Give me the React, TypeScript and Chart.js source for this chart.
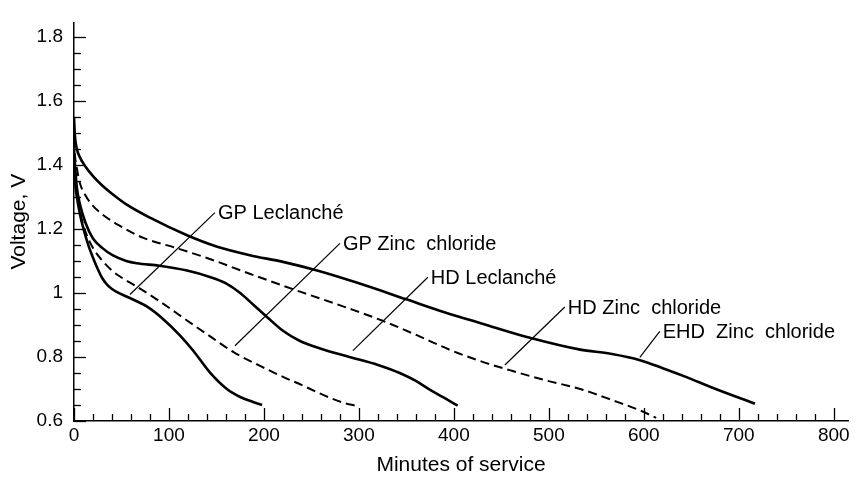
import React, { useEffect, useRef } from 'react';
import { Chart, registerables } from 'chart.js';

Chart.register(...registerables);

// ---- Data (minutes of service, voltage) ----
const gpLeclancheT = [0, 1, 3, 6, 10, 15, 20, 25, 30, 36, 45, 56, 66, 77, 94, 112, 126, 143, 161, 175, 188, 198];
const gpLeclancheV = [1.40, 1.35, 1.30, 1.25, 1.20, 1.15, 1.11, 1.075, 1.045, 1.022, 1.003, 0.988, 0.974, 0.957, 0.918, 0.866, 0.818, 0.752, 0.70, 0.675, 0.66, 0.65];

const gpZincT = [0, 1, 3, 6, 10, 15, 20, 30, 40, 48, 66, 90, 119, 143, 168, 196, 217, 240, 256, 270, 285, 298];
const gpZincV = [1.42, 1.37, 1.31, 1.26, 1.21, 1.17, 1.14, 1.10, 1.07, 1.052, 1.02, 0.974, 0.914, 0.865, 0.815, 0.772, 0.742, 0.712, 0.69, 0.672, 0.656, 0.647];

const hdLeclancheT = [0, 1, 3, 6, 12, 20, 30, 41, 55, 66, 90, 119, 143, 160, 175, 190, 205, 220, 238, 260, 290, 320, 343, 360, 375, 390, 404];
const hdLeclancheV = [1.45, 1.40, 1.33, 1.28, 1.22, 1.17, 1.14, 1.117, 1.10, 1.093, 1.085, 1.07, 1.05, 1.03, 1.0, 0.96, 0.92, 0.882, 0.85, 0.826, 0.80, 0.775, 0.75, 0.725, 0.697, 0.672, 0.648];

const hdZincT = [0, 1, 3, 6, 12, 20, 30, 48, 73, 108, 143, 185, 238, 291, 325, 361, 396, 427, 462, 498, 533, 567, 596, 613];
const hdZincV = [1.48, 1.43, 1.39, 1.345, 1.305, 1.272, 1.245, 1.21, 1.172, 1.14, 1.106, 1.06, 1.004, 0.95, 0.913, 0.868, 0.822, 0.788, 0.756, 0.726, 0.70, 0.665, 0.633, 0.61];

const ehdZincT = [0, 1, 3, 6, 12, 20, 30, 40, 56, 80, 119, 150, 185, 220, 256, 300, 350, 390, 430, 480, 533, 565, 596, 620, 645, 673, 717];
const ehdZincV = [1.55, 1.49, 1.45, 1.425, 1.395, 1.365, 1.335, 1.31, 1.275, 1.235, 1.18, 1.145, 1.118, 1.097, 1.07, 1.03, 0.98, 0.94, 0.904, 0.86, 0.823, 0.81, 0.79, 0.765, 0.737, 0.703, 0.654];

// Callout labels: text, leader line start (t, V), leader line end (t, V)
const calloutTexts = ['GP Leclanché', 'GP Zinc  chloride', 'HD Leclanché', 'HD Zinc  chloride', 'EHD  Zinc  chloride'];
const calloutStartT = [58.9, 169.5, 293.7, 453.7, 595.8];
const calloutStartV = [0.995, 0.835, 0.82, 0.775, 0.799];
const calloutEndT = [148.4, 280, 372.6, 516.8, 616.8];
const calloutEndV = [1.251, 1.155, 1.049, 0.956, 0.88];

const xTickLabels = ['0', '100', '200', '300', '400', '500', '600', '700', '800'];
const yTickLabels = ['0.6', '0.8', '1', '1.2', '1.4', '1.6', '1.8'];

const FONT = "'Liberation Sans', Arial, Helvetica, sans-serif";

const zip = (t: number[], v: number[]) => t.map((x, i) => ({ x, y: v[i] }));

const isMultiple = (v: number, step: number) => Math.abs(v / step - Math.round(v / step)) < 1e-6;

const inwardTicksAndCallouts = {
  id: 'inwardTicksAndCallouts',
  afterDraw(chart: any) {
    const ctx = chart.ctx as CanvasRenderingContext2D;
    const xs = chart.scales.x;
    const ys = chart.scales.y;
    ctx.save();
    ctx.strokeStyle = '#000';
    ctx.lineWidth = 1.3;
    // x ticks pointing up
    xs.ticks.forEach((t: any) => {
      const px = Math.round(xs.getPixelForValue(t.value)) + 0.5;
      const major = isMultiple(t.value, 100);
      ctx.beginPath();
      ctx.moveTo(px, xs.top);
      ctx.lineTo(px, xs.top - (major ? 13 : 7));
      ctx.stroke();
    });
    // y ticks pointing right
    ys.ticks.forEach((t: any) => {
      const py = Math.round(ys.getPixelForValue(t.value)) + 0.5;
      const major = isMultiple(t.value - 0.6, 0.2);
      ctx.beginPath();
      ctx.moveTo(ys.right, py);
      ctx.lineTo(ys.right + (major ? 12 : 7), py);
      ctx.stroke();
    });
    // callouts
    ctx.lineWidth = 1.2;
    ctx.fillStyle = '#000';
    ctx.font = `20px ${FONT}`;
    ctx.textAlign = 'left';
    ctx.textBaseline = 'middle';
    calloutTexts.forEach((txt, i) => {
      const x1 = xs.getPixelForValue(calloutStartT[i]);
      const y1 = ys.getPixelForValue(calloutStartV[i]);
      const x2 = xs.getPixelForValue(calloutEndT[i]);
      const y2 = ys.getPixelForValue(calloutEndV[i]);
      ctx.beginPath();
      ctx.moveTo(x1, y1);
      ctx.lineTo(x2, y2);
      ctx.stroke();
      ctx.fillText(txt, x2 + 3, y2 + 1);
    });
    ctx.restore();
  },
};

export default function App() {
  const canvasRef = useRef<HTMLCanvasElement | null>(null);

  useEffect(() => {
    if (!canvasRef.current) return;
    const solid = { borderColor: '#000', borderWidth: 2.6, pointRadius: 0, cubicInterpolationMode: 'monotone' as const, fill: false };
    const dashed = { ...solid, borderWidth: 2, borderDash: [9, 5] };
    const chart = new Chart(canvasRef.current, {
      type: 'line',
      data: {
        datasets: [
          { label: 'GP Leclanché', data: zip(gpLeclancheT, gpLeclancheV), ...solid },
          { label: 'GP Zinc chloride', data: zip(gpZincT, gpZincV), ...dashed },
          { label: 'HD Leclanché', data: zip(hdLeclancheT, hdLeclancheV), ...solid },
          { label: 'HD Zinc chloride', data: zip(hdZincT, hdZincV), ...dashed },
          { label: 'EHD Zinc chloride', data: zip(ehdZincT, ehdZincV), ...solid },
        ],
      },
      options: {
        animation: false,
        responsive: false,
        layout: { padding: { top: 7, right: 8, left: 0, bottom: 0 } },
        plugins: { legend: { display: false }, tooltip: { enabled: false } },
        scales: {
          x: {
            type: 'linear',
            min: 0,
            max: 815,
            afterFit: (s: any) => { s.height = 57; },
            grid: { display: false, drawTicks: false },
            border: { display: true, color: '#000', width: 1.5 },
            ticks: {
              stepSize: 20,
              includeBounds: false,
              autoSkip: false,
              maxRotation: 0,
              padding: 3,
              color: '#000',
              font: { family: FONT, size: 19 },
              callback: (v: any) => {
                const n = Number(v);
                if (!isMultiple(n, 100)) return '';
                return xTickLabels[Math.round(n / 100)] ?? '';
              },
            },
            title: {
              display: true,
              text: 'Minutes of service',
              color: '#000',
              font: { family: FONT, size: 21 },
              padding: { top: 0, bottom: 0 },
            },
          },
          y: {
            type: 'linear',
            min: 0.6,
            max: 1.845,
            afterFit: (s: any) => { s.width = 74; },
            grid: { display: false, drawTicks: false },
            border: { display: true, color: '#000', width: 1.5 },
            ticks: {
              stepSize: 0.05,
              includeBounds: false,
              autoSkip: false,
              padding: 11,
              color: '#000',
              font: { family: FONT, size: 19 },
              callback: (v: any) => {
                const n = Number(v);
                if (!isMultiple(n - 0.6, 0.2)) return '';
                return yTickLabels[Math.round((n - 0.6) / 0.2)] ?? '';
              },
            },
            title: {
              display: true,
              text: 'Voltage, V',
              color: '#000',
              font: { family: FONT, size: 21 },
              padding: { top: 7, bottom: 0 },
            },
          },
        },
      },
      plugins: [inwardTicksAndCallouts],
    } as any);
    return () => chart.destroy();
  }, []);

  return (
    <div style={{ position: 'absolute', left: 0, top: 0, width: 856, height: 478, background: '#fff' }}>
      <canvas ref={canvasRef} width={856} height={478} style={{ display: 'block' }} />
    </div>
  );
}
